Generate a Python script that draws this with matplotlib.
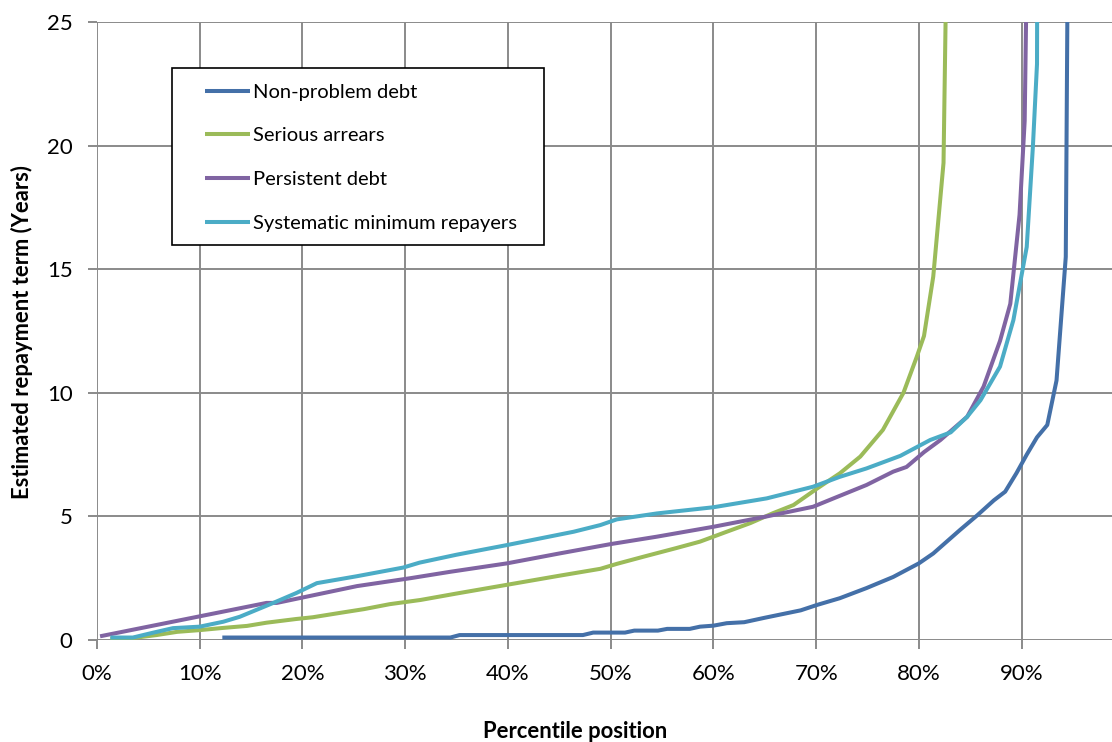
import matplotlib
matplotlib.use("Agg")
import matplotlib.pyplot as plt
from matplotlib.patches import Rectangle
from matplotlib.ticker import FuncFormatter

plt.rcParams['font.family'] = ['Lato', 'DejaVu Sans']

# percentile position (%) and estimated repayment term (years)
non_problem_x = [12.2, 34.4, 35.3, 47.3, 48.3, 51.4, 52.3, 54.6, 55.5, 57.7, 58.7, 60.0, 61.3,
                 63.0, 65.0, 68.5, 70.1, 72.3, 74.9, 77.5, 80.0, 81.4, 84.0, 85.7, 87.3, 88.4,
                 89.5, 90.5, 91.5, 92.5, 93.4, 94.3, 95.2]
non_problem_y = [0.1, 0.1, 0.2, 0.2, 0.3, 0.3, 0.38, 0.38, 0.45, 0.45, 0.54, 0.58, 0.68,
                 0.72, 0.9, 1.2, 1.42, 1.69, 2.1, 2.55, 3.1, 3.5, 4.45, 5.05, 5.65, 6.0,
                 6.75, 7.5, 8.2, 8.7, 10.5, 15.5, 72]

arrears_x = [1.3, 3.5, 5.8, 7.8, 10.0, 12.3, 14.6, 16.5, 19.4, 21.0, 23.7, 26.0, 28.5, 31.5,
             35.0, 40.0, 45.0, 49.0, 50.6, 53.2, 56.4, 58.7, 61.3, 63.6, 65.8, 67.8, 70.1,
             72.3, 74.3, 76.5, 78.5, 79.8, 80.5, 81.4, 82.4, 83.3]
arrears_y = [0.05, 0.08, 0.2, 0.33, 0.4, 0.49, 0.57, 0.7, 0.85, 0.92, 1.1, 1.25, 1.45, 1.62,
             1.88, 2.24, 2.6, 2.88, 3.08, 3.37, 3.72, 3.98, 4.38, 4.73, 5.13, 5.46, 6.13,
             6.74, 7.42, 8.5, 10.0, 11.46, 12.3, 14.7, 19.3, 45]

persistent_x = [0.3, 16.5, 17.5, 25.3, 30.5, 34.4, 39.9, 45.0, 50.0, 54.5, 60.0, 65.2, 69.7,
                71.7, 74.9, 77.5, 78.8, 80.5, 82.1, 84.7, 86.3, 87.9, 88.9, 89.8, 90.3, 91.1]
persistent_y = [0.15, 1.5, 1.5, 2.18, 2.5, 2.76, 3.1, 3.5, 3.88, 4.18, 4.58, 5.0, 5.39,
                5.73, 6.27, 6.81, 7.0, 7.6, 8.09, 9.03, 10.25, 12.1, 13.6, 17.2, 21.0, 45]

minimum_x = [1.3, 3.5, 5.5, 7.4, 10.0, 12.3, 13.9, 17.1, 19.4, 21.4, 25.3, 29.8, 31.4, 35.0,
             39.9, 46.4, 49.0, 50.6, 54.5, 60.0, 65.2, 69.7, 72.3, 74.9, 78.2, 81.1, 83.1,
             84.7, 86.0, 87.9, 89.2, 90.5, 91.1, 91.5, 92.3]
minimum_y = [0.1, 0.1, 0.3, 0.48, 0.54, 0.74, 0.94, 1.49, 1.9, 2.3, 2.58, 2.93, 3.13, 3.45,
             3.84, 4.38, 4.65, 4.88, 5.12, 5.37, 5.73, 6.2, 6.6, 6.94, 7.45, 8.09, 8.4,
             9.03, 9.7, 11.06, 12.94, 15.9, 19.96, 23.3, 150]

series = [
    ("Non-problem debt", non_problem_x, non_problem_y, "#4470a8"),
    ("Serious arrears", arrears_x, arrears_y, "#9bbb59"),
    ("Persistent debt", persistent_x, persistent_y, "#8064a2"),
    ("Systematic minimum repayers", minimum_x, minimum_y, "#4bacc6"),
]

W, H = 1112, 742
fig = plt.figure(figsize=(W / 100, H / 100), dpi=100)
ax = fig.add_axes([97 / W, (H - 640) / H, (W - 97) / W, (640 - 22) / H])

for name, xs, ys, col in series:
    ax.plot([v / 100 for v in xs], ys, color=col, lw=2.9, label=name,
            solid_capstyle='butt')

ax.set_xlim(0, 0.988)
ax.set_ylim(0, 25)
ax.set_xticks([i / 10 for i in range(10)])
ax.set_yticks(range(0, 26, 5))
ax.xaxis.set_major_formatter(FuncFormatter(lambda v, p: f"{round(v * 100)}%"))

grid_col = "#8a8a8a"
ax.grid(True, color=grid_col, lw=1.4)
ax.set_axisbelow(True)
for s in ax.spines.values():
    s.set_visible(False)
ax.tick_params(axis='both', direction='out', length=6.5, width=1.4, color=grid_col,
               labelsize=16, labelcolor='black')
ax.tick_params(axis='y', pad=11)
ax.tick_params(axis='x', pad=11)

fig.text(22 / W, 1 - 332 / H, "Estimated repayment term (Years)", rotation=90,
         ha='center', va='center', fontsize=15.8, fontweight='bold')
fig.text(575 / W, 1 - 731 / H, "Percentile position", ha='center', va='center',
         fontsize=15.8, fontweight='bold')

# legend box drawn separately, entries from the plotted lines
box = Rectangle((172 / W, 1 - 245 / H), (544 - 172) / W, (245 - 68) / H,
                transform=fig.transFigure, facecolor='white', edgecolor='black',
                lw=1.2, zorder=5, clip_on=False)
ax.add_patch(box)
leg = ax.legend(loc='upper left', bbox_to_anchor=(205 / W, 1 - 83.5 / H),
                bbox_transform=fig.transFigure, frameon=False, fontsize=14.5,
                handlelength=2.24, handletextpad=0.15, labelspacing=1.33,
                borderpad=0, borderaxespad=0)
leg.set_zorder(6)

fig.savefig("out.png", dpi=100)
